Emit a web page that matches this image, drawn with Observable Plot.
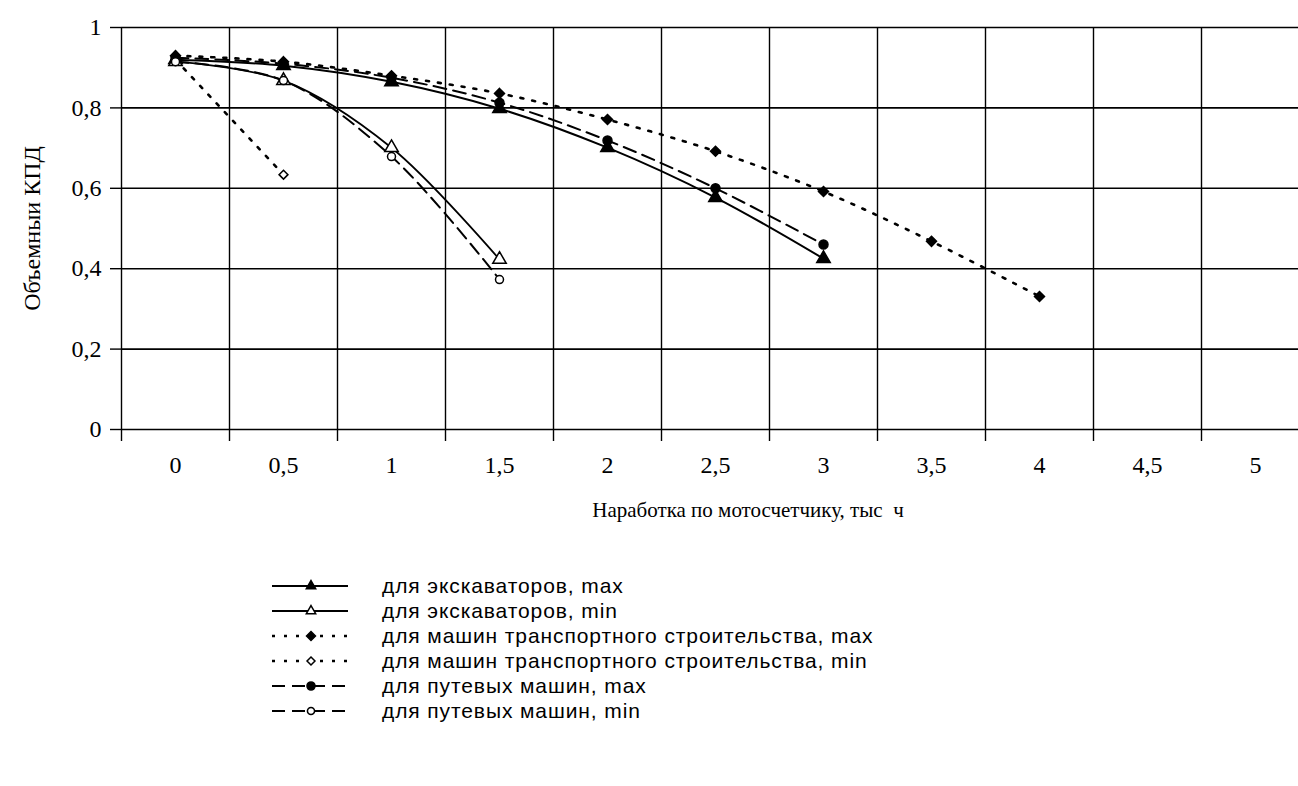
<!DOCTYPE html>
<html>
<head>
<meta charset="utf-8">
<script src="https://cdn.jsdelivr.net/npm/d3@7"></script>
<script src="https://cdn.jsdelivr.net/npm/@observablehq/plot@0.6"></script>
<style>
  html, body { margin: 0; padding: 0; background: white; overflow: hidden; }
  #chart { position: absolute; left: 0; top: 0; }
  #legend { position: absolute; left: 272px; top: 573px; font-family: "Liberation Sans", Arial, sans-serif; font-size: 21px; letter-spacing: 0.9px; color: black; }
  .row { display: flex; align-items: center; height: 25px; }
  .row svg { width: 76px; height: 20px; margin-right: 34px; overflow: visible; }
</style>
</head>
<body>
<div id="chart"></div>
<div id="legend"></div>
<script>
// ---- data ----
const xTicks = [0, 0.5, 1, 1.5, 2, 2.5, 3, 3.5, 4, 4.5, 5];
const xCategoryEdges = [-0.25, 0.25, 0.75, 1.25, 1.75, 2.25, 2.75, 3.25, 3.75, 4.25, 4.75, 5.25];
const yTicks = [0, 0.2, 0.4, 0.6, 0.8, 1];

const xExcMax = [0, 0.5, 1, 1.5, 2, 2.5, 3];
const excMax  = [0.92, 0.905, 0.865, 0.798, 0.701, 0.577, 0.425];

const xExcMin = [0, 0.5, 1, 1.5];
const excMin  = [0.915, 0.868, 0.701, 0.423];

const xTrMax = [0, 0.5, 1, 1.5, 2, 2.5, 3, 3.5, 4];
const trMax  = [0.93, 0.915, 0.88, 0.836, 0.771, 0.692, 0.592, 0.468, 0.331];

const xTrMin = [0, 0.5];
const trMin  = [0.92, 0.634];

const xPutMax = [0, 0.5, 1, 1.5, 2, 2.5, 3];
const putMax  = [0.925, 0.91, 0.875, 0.813, 0.719, 0.600, 0.460];

const xPutMin = [0, 0.5, 1, 1.5];
const putMin  = [0.915, 0.868, 0.679, 0.373];

const seriesNames = [
  "для экскаваторов, max",
  "для экскаваторов, min",
  "для машин транспортного строительства, max",
  "для машин транспортного строительства, min",
  "для путевых машин, max",
  "для путевых машин, min"
];
const xTitle = "Наработка по мотосчетчику, тыс  ч";
const yTitle = "Объемныи КПД";

// ---- styles ----
const styles = [
  {x: xExcMax, y: excMax, dash: null,   width: 2,   symbol: "triangle", fill: "black", r: 5},
  {x: xExcMin, y: excMin, dash: null,   width: 1.8, symbol: "triangle", fill: "white", r: 5},
  {x: xTrMax,  y: trMax,  dash: "3,9",  width: 2.6, symbol: "diamond2", fill: "black", r: 4.5},
  {x: xTrMin,  y: trMin,  dash: "3,9",  width: 2.6, symbol: "diamond2", fill: "white", r: 4},
  {x: xPutMax, y: putMax, dash: "13,7", width: 2,   symbol: "circle",   fill: "black", r: 4.5},
  {x: xPutMin, y: putMin, dash: "13,7", width: 2,   symbol: "circle",   fill: "white", r: 4}
];

const fmt = d => String(d).replace(".", ",");

const marks = [
  Plot.ruleX(xCategoryEdges, {y1: 0, y2: 1, stroke: "black", strokeWidth: 1.4}),
  Plot.gridY(yTicks, {stroke: "black", strokeOpacity: 1, strokeWidth: 1.6}),
  Plot.axisX({ticks: xCategoryEdges, tickSize: 12, tickFormat: () => "", stroke: "black", strokeWidth: 1.4, label: null}),
  Plot.axisX({ticks: xTicks, tickSize: 0, tickPadding: 26, tickFormat: fmt, label: null, fontSize: 24}),
  Plot.axisY({ticks: yTicks, tickSize: 11, tickPadding: 9, tickFormat: fmt, label: null, fontSize: 24, strokeWidth: 1.4}),
  Plot.text([yTitle], {frameAnchor: "left", textAnchor: "middle", dx: -89, rotate: -90, fontSize: 24, fill: "black"}),
  Plot.text([xTitle], {frameAnchor: "bottom", textAnchor: "middle", dx: 38, dy: 87, fontSize: 21, fill: "black"})
];

styles.forEach(s => {
  const data = s.x.map((x, i) => ({x, y: s.y[i]}));
  marks.push(Plot.line(data, {x: "x", y: "y", curve: "catmull-rom", stroke: "black", strokeWidth: s.width, strokeDasharray: s.dash || undefined}));
});
styles.forEach(s => {
  const data = s.x.map((x, i) => ({x, y: s.y[i]}));
  marks.push(Plot.dot(data, {x: "x", y: "y", symbol: s.symbol, r: s.r, fill: s.fill, stroke: "black", strokeWidth: 1.5}));
});

const plot = Plot.plot({
  width: 1298,
  height: 560,
  marginLeft: 121,
  marginRight: 0,
  marginTop: 27,
  marginBottom: 131,
  x: {domain: [-0.25, 5.25], range: [121, 1309]},
  y: {domain: [0, 1], range: [429, 27]},
  style: {fontFamily: "'Liberation Serif', 'Times New Roman', serif", fontSize: "24px", color: "black", background: "white", overflow: "hidden"},
  marks
});
document.getElementById("chart").appendChild(plot);

// ---- legend ----
const symMap = {triangle: d3.symbolTriangle2, diamond2: d3.symbolDiamond2, circle: d3.symbolCircle};
const legend = d3.select("#legend");
styles.forEach((s, i) => {
  const row = legend.append("div").attr("class", "row");
  const svg = row.append("svg").attr("viewBox", "0 0 76 20");
  svg.append("line").attr("x1", 0).attr("x2", 76).attr("y1", 10).attr("y2", 10)
    .attr("stroke", "black").attr("stroke-width", s.width)
    .attr("stroke-dasharray", s.dash);
  const size = Math.PI * s.r * s.r * 0.8;
  svg.append("path").attr("transform", "translate(39,10)")
    .attr("d", d3.symbol(symMap[s.symbol], size)())
    .attr("fill", s.fill).attr("stroke", "black").attr("stroke-width", 1.5);
  row.append("span").text(seriesNames[i]);
});
</script>
</body>
</html>
